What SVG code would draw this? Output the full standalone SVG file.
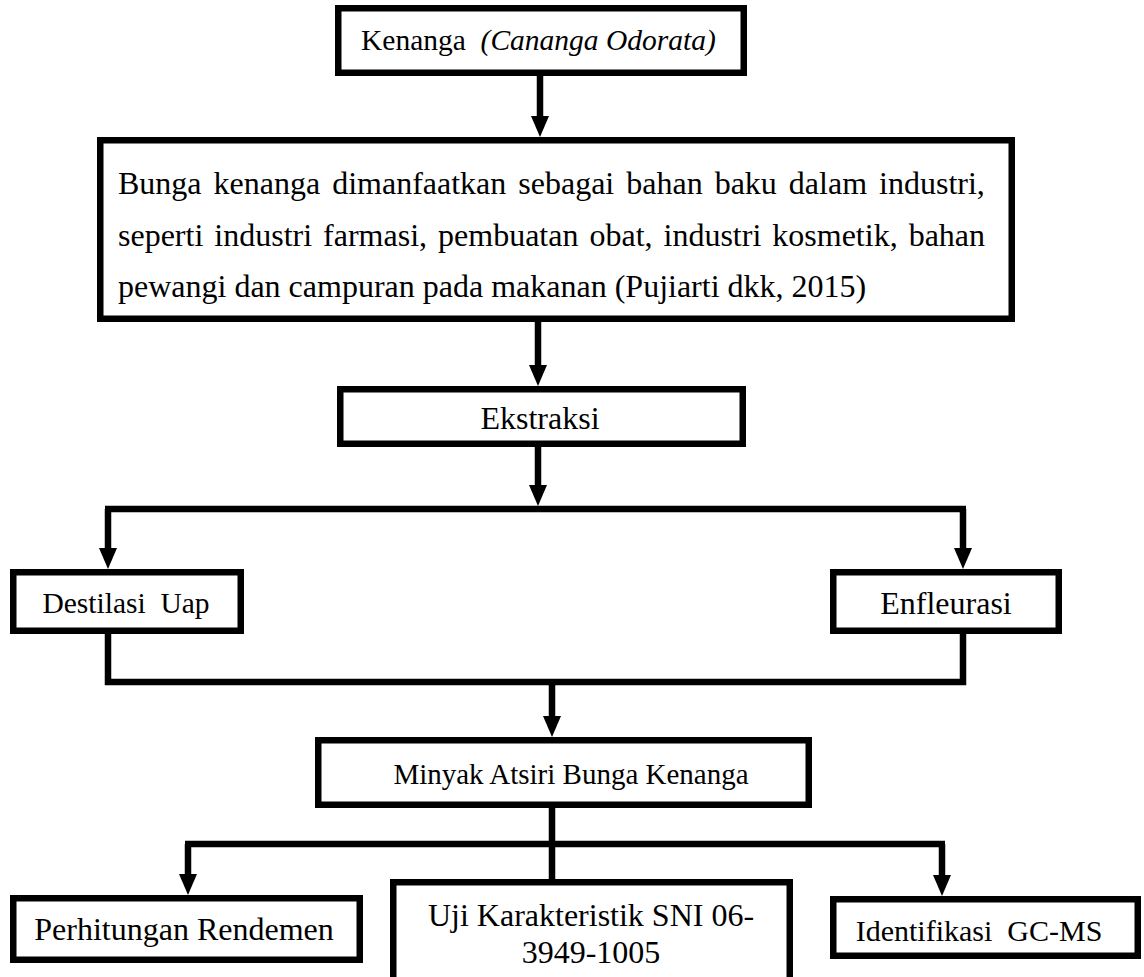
<svg xmlns="http://www.w3.org/2000/svg" width="1144" height="977" viewBox="0 0 1144 977">
<style>
.box{fill:#fff;stroke:#000;stroke-width:6.5;stroke-linejoin:miter}
.t{font-family:"Liberation Serif","Times New Roman",serif;font-size:32px;fill:#000}
.c{text-anchor:middle}
.con{fill:none;stroke:#000;stroke-width:6.5;stroke-linejoin:miter}
</style>
<defs>
<marker id="ah" markerUnits="userSpaceOnUse" markerWidth="22" markerHeight="18" refX="6" refY="9" orient="auto" overflow="visible">
<path d="M0,0 L21,9 L0,18 Z" fill="#000"/>
</marker>
</defs>
<rect width="1144" height="977" fill="#fff"/>
<g id="connectors">
<path class="con" d="M540,76 V122" marker-end="url(#ah)"/>
<path class="con" d="M538,322 V371" marker-end="url(#ah)"/>
<path class="con" d="M538,447 V491" marker-end="url(#ah)"/>
<path class="con" d="M105,509 H966"/>
<path class="con" d="M108,509 V554" marker-end="url(#ah)"/>
<path class="con" d="M963,509 V554" marker-end="url(#ah)"/>
<path class="con" d="M108,634 V682 H963 V634"/>
<path class="con" d="M552,682 V722" marker-end="url(#ah)"/>
<path class="con" d="M552,808 V879"/>
<path class="con" d="M185,844 H945"/>
<path class="con" d="M188,844 V880" marker-end="url(#ah)"/>
<path class="con" d="M942,844 V881" marker-end="url(#ah)"/>
</g>
<g id="n1">
<rect class="box" x="338.25" y="8.25" width="405.5" height="64.5"/>
<text class="t" x="361" y="50" style="font-size:29.5px" xml:space="preserve">Kenanga  <tspan font-style="italic">(Cananga Odorata)</tspan></text>
</g>
<g id="n2">
<rect class="box" x="100.25" y="140.25" width="911.5" height="178.5"/>
<text class="t" x="118" y="194" style="word-spacing:4px">Bunga kenanga dimanfaatkan sebagai bahan baku dalam industri,</text>
<text class="t" x="118" y="246" style="word-spacing:3px">seperti industri farmasi, pembuatan obat, industri kosmetik, bahan</text>
<text class="t" x="118" y="297">pewangi dan campuran pada makanan (Pujiarti dkk, 2015)</text>
</g>
<g id="n3">
<rect class="box" x="340.25" y="389.25" width="402.5" height="54.5"/>
<text class="t c" x="540" y="429">Ekstraksi</text>
</g>
<g id="n4">
<rect class="box" x="13.25" y="572.25" width="227.5" height="58.5"/>
<text class="t c" x="126" y="613" style="font-size:29.5px" xml:space="preserve">Destilasi  Uap</text>
</g>
<g id="n5">
<rect class="box" x="833.25" y="572.25" width="225.5" height="58.5"/>
<text class="t c" x="946" y="614">Enfleurasi</text>
</g>
<g id="n6">
<rect class="box" x="318.25" y="740.25" width="490.5" height="64.5"/>
<text class="t c" x="571" y="784" style="font-size:29px">Minyak Atsiri Bunga Kenanga</text>
</g>
<g id="n7">
<rect class="box" x="13.25" y="898.25" width="346.5" height="61.5"/>
<text class="t c" x="184" y="940">Perhitungan Rendemen</text>
</g>
<g id="n8">
<rect class="box" x="393.25" y="882.25" width="396.5" height="120"/>
<text class="t c" x="591" y="926">Uji Karakteristik SNI 06-</text>
<text class="t c" x="591" y="963">3949-1005</text>
</g>
<g id="n9">
<rect class="box" x="833.25" y="899.25" width="304.5" height="56.5"/>
<text class="t c" x="979" y="941" style="font-size:30px" xml:space="preserve">Identifikasi  GC-MS</text>
</g>
</svg>
